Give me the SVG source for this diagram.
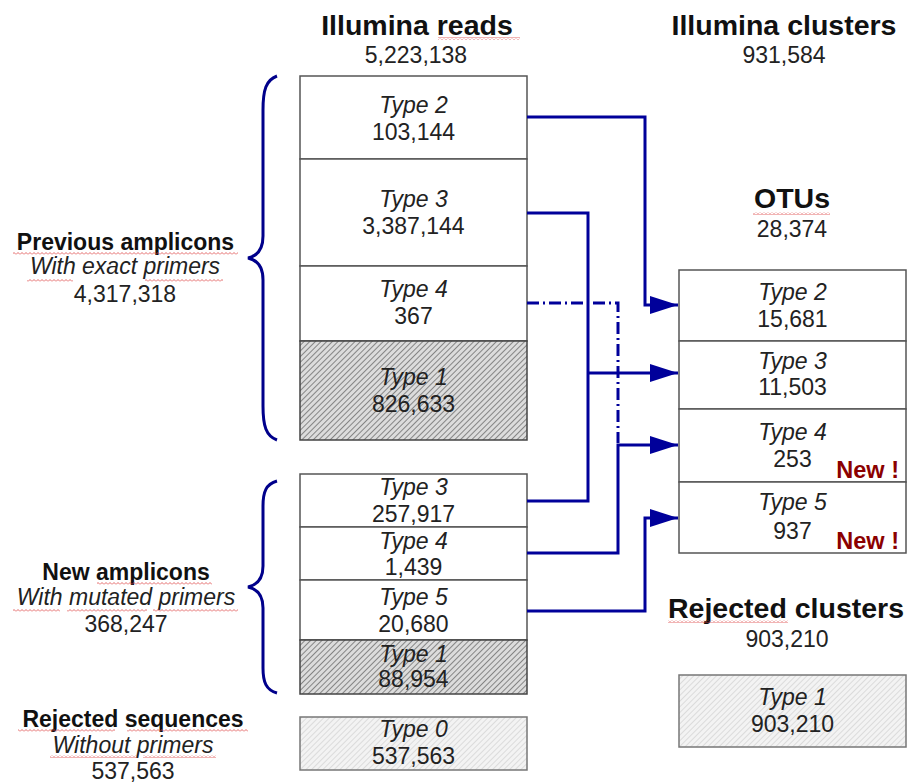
<svg xmlns="http://www.w3.org/2000/svg" width="909" height="783" viewBox="0 0 909 783">
<defs>
<style>
text{font-family:"Liberation Sans",Arial,sans-serif;fill:#222;text-anchor:middle}
.title{font-size:28.5px;font-weight:bold;fill:#111}
.lbl{font-size:23px;font-weight:bold;fill:#111}
.it{font-size:23px;font-style:italic}
.num{font-size:23px}
.new{font-size:23.5px;font-weight:bold;fill:#8b0000;text-anchor:end}
.box{fill:#fff;stroke:#555;stroke-width:1.5}
.dark{fill:url(#hatchDark);stroke:#444;stroke-width:1.5}
.light{fill:url(#hatchLight);stroke:#777;stroke-width:1.5}
.conn{fill:none;stroke:#00009a;stroke-width:3}
.dash{fill:none;stroke:#00009a;stroke-width:3;stroke-dasharray:12 4 2 4}
.brace{fill:none;stroke:#00008b;stroke-width:3}
.wave{fill:url(#wave)}
</style>
<pattern id="hatchDark" width="4" height="4" patternUnits="userSpaceOnUse" patternTransform="rotate(45)">
<rect width="4" height="4" fill="#dcdcdc"/>
<line x1="0" y1="0" x2="0" y2="4" stroke="#555" stroke-width="1.3"/>
</pattern>
<pattern id="hatchLight" width="4" height="4" patternUnits="userSpaceOnUse" patternTransform="rotate(45)">
<rect width="4" height="4" fill="#f3f3f3"/>
<line x1="0" y1="0" x2="0" y2="4" stroke="#c4c4c4" stroke-width="1"/>
</pattern>
<pattern id="wave" width="4" height="3" patternUnits="userSpaceOnUse">
<path d="M0,2.5 L2,0.5 L4,2.5" fill="none" stroke="#d44" stroke-width="0.8"/>
</pattern>
<marker id="arrow" markerWidth="28" markerHeight="18" refX="28" refY="9" orient="auto" markerUnits="userSpaceOnUse">
<path d="M0,0 L28,9 L0,18 Z" fill="#00009a"/>
</marker>
</defs>

<g id="headers">
<text class="title" x="417" y="35">Illumina reads</text>
<text class="num" x="416" y="63">5,223,138</text>
<text class="title" x="784" y="35">Illumina clusters</text>
<text class="num" x="784" y="63">931,584</text>
<text class="title" x="792" y="208">OTUs</text>
<text class="num" x="792" y="237">28,374</text>
<text class="title" x="786" y="618">Rejected clusters</text>
<text class="num" x="787" y="647">903,210</text>
</g>

<g id="group-labels">
<text class="lbl" x="125.5" y="250">Previous amplicons</text>
<text class="it" x="125" y="274">With exact primers</text>
<text class="num" x="125" y="301.5">4,317,318</text>
<text class="lbl" x="126" y="580">New amplicons</text>
<text class="it" x="126" y="605">With mutated primers</text>
<text class="num" x="126" y="631.5">368,247</text>
<text class="lbl" x="133" y="727">Rejected sequences</text>
<text class="it" x="133" y="753">Without primers</text>
<text class="num" x="133" y="779">537,563</text>
</g>

<g id="spellcheck">
<rect class="wave" x="438" y="37" width="82" height="3"/>
<rect class="wave" x="13" y="252" width="225" height="3"/>
<rect class="wave" x="27" y="279" width="46" height="3"/>
<rect class="wave" x="145" y="279" width="78" height="3"/>
<rect class="wave" x="753" y="212" width="77" height="3"/>
<rect class="wave" x="97" y="582" width="115" height="3"/>
<rect class="wave" x="13" y="609" width="47" height="3"/>
<rect class="wave" x="67" y="609" width="80" height="3"/>
<rect class="wave" x="153" y="609" width="85" height="3"/>
<rect class="wave" x="18" y="729" width="97" height="3"/>
<rect class="wave" x="127" y="729" width="121" height="3"/>
<rect class="wave" x="50" y="755" width="87" height="3"/>
<rect class="wave" x="143" y="755" width="73" height="3"/>
<rect class="wave" x="668" y="620" width="120" height="3"/>
</g>

<g id="braces">
<path class="brace" d="M277,76 C266,80 263,90 263,110 L263,236 C263,250 257,256 248,258 C257,260 263,266 263,280 L263,406 C263,426 266,436 277,440"/>
<path class="brace" d="M277,481 C266,484 263,492 263,506 L263,566 C263,579 257,585 248,587 C257,589 263,595 263,608 L263,668 C263,682 266,690 277,693"/>
</g>

<g id="reads-type2"><rect class="box" x="300" y="76" width="227" height="83"/><text class="it" x="413.5" y="112.5">Type 2</text><text class="num" x="413.5" y="140">103,144</text></g>
<g id="reads-type3"><rect class="box" x="300" y="159" width="227" height="107"/><text class="it" x="413.5" y="206.5">Type 3</text><text class="num" x="413.5" y="234">3,387,144</text></g>
<g id="reads-type4"><rect class="box" x="300" y="266" width="227" height="75"/><text class="it" x="413.5" y="296.5">Type 4</text><text class="num" x="413.5" y="324">367</text></g>
<g id="reads-type1"><rect class="dark" x="300" y="341" width="227" height="99"/><text class="it" x="413.5" y="385">Type 1</text><text class="num" x="413.5" y="411.5">826,633</text></g>

<g id="new-type3"><rect class="box" x="300" y="474" width="227" height="53"/><text class="it" x="413.5" y="495">Type 3</text><text class="num" x="413.5" y="521.5">257,917</text></g>
<g id="new-type4"><rect class="box" x="300" y="527" width="227" height="53"/><text class="it" x="413.5" y="548.5">Type 4</text><text class="num" x="413.5" y="575">1,439</text></g>
<g id="new-type5"><rect class="box" x="300" y="580" width="227" height="60"/><text class="it" x="413.5" y="605">Type 5</text><text class="num" x="413.5" y="631.5">20,680</text></g>
<g id="new-type1"><rect class="dark" x="300" y="640" width="227" height="54"/><text class="it" x="413.5" y="661.5">Type 1</text><text class="num" x="413.5" y="686.5">88,954</text></g>

<g id="rejected-type0"><rect class="light" x="300" y="717" width="227" height="53"/><text class="it" x="413.5" y="737">Type 0</text><text class="num" x="413.5" y="763.5">537,563</text></g>

<g id="otu-type2"><rect class="box" x="679" y="270" width="227" height="71"/><text class="it" x="792.5" y="299.5">Type 2</text><text class="num" x="792.5" y="327">15,681</text></g>
<g id="otu-type3"><rect class="box" x="679" y="341" width="227" height="68"/><text class="it" x="792.5" y="368.5">Type 3</text><text class="num" x="792.5" y="395">11,503</text></g>
<g id="otu-type4"><rect class="box" x="679" y="409" width="227" height="73"/><text class="it" x="792.5" y="440">Type 4</text><text class="num" x="792.5" y="467">253</text><text class="new" x="899" y="477.5">New !</text></g>
<g id="otu-type5"><rect class="box" x="679" y="482" width="227" height="71"/><text class="it" x="792.5" y="510">Type 5</text><text class="num" x="792.5" y="538.5">937</text><text class="new" x="899" y="548.5">New !</text></g>

<g id="rejected-clusters-type1"><rect class="light" x="679" y="675" width="227" height="72"/><text class="it" x="792.5" y="705">Type 1</text><text class="num" x="792.5" y="731.5">903,210</text></g>

<g id="connectors">
<path class="conn" d="M527,117 H645 V305 H678" marker-end="url(#arrow)"/>
<path class="conn" d="M527,213 H588 V501 H527"/>
<path class="conn" d="M588,373 H678" marker-end="url(#arrow)"/>
<path class="dash" d="M527,303 H618 V443"/>
<path class="conn" d="M527,553 H618 V445 H678" marker-end="url(#arrow)"/>
<path class="conn" d="M527,611 H645 V518 H678" marker-end="url(#arrow)"/>
</g>
</svg>
